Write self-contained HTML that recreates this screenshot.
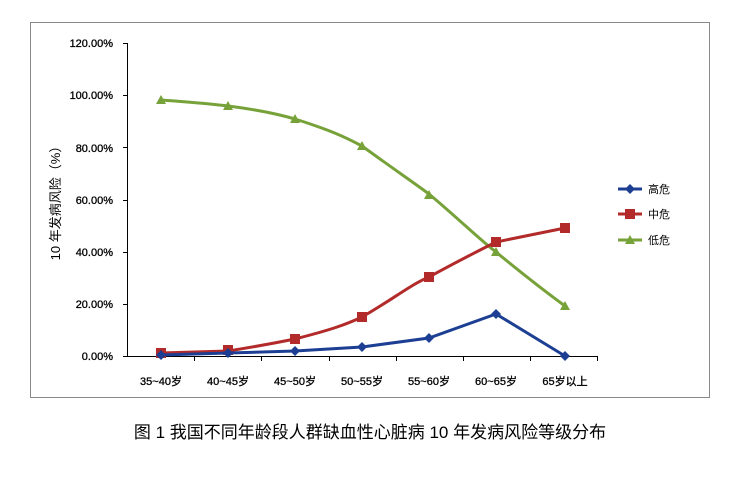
<!DOCTYPE html>
<html><head><meta charset="utf-8"><style>
body{margin:0;background:#fff;width:732px;height:482px;overflow:hidden}
text{font-family:"Liberation Sans","Noto Sans CJK SC",sans-serif}
</style></head><body>
<svg width="732" height="482" xmlns="http://www.w3.org/2000/svg">
<rect x="30.5" y="22.5" width="679" height="375" fill="none" stroke="#888" stroke-width="1"/>
<g font-size="11" fill="#000" text-anchor="end" stroke="#000" stroke-width="0.3">
<text x="113" y="47">120.00%</text>
<text x="113" y="99">100.00%</text>
<text x="113" y="152">80.00%</text>
<text x="113" y="204">60.00%</text>
<text x="113" y="256">40.00%</text>
<text x="113" y="308">20.00%</text>
<text x="113" y="360">0.00%</text>
</g>
<g stroke="#000" stroke-width="1">
<line x1="127.5" y1="43" x2="127.5" y2="356"/>
<line x1="127" y1="356.5" x2="598" y2="356.5"/>
<line x1="123" y1="43.5" x2="127" y2="43.5"/>
<line x1="123" y1="95.5" x2="127" y2="95.5"/>
<line x1="123" y1="147.5" x2="127" y2="147.5"/>
<line x1="123" y1="200.5" x2="127" y2="200.5"/>
<line x1="123" y1="252.5" x2="127" y2="252.5"/>
<line x1="123" y1="304.5" x2="127" y2="304.5"/>
<line x1="123" y1="356.5" x2="127" y2="356.5"/>
<line x1="194.5" y1="356" x2="194.5" y2="361"/>
<line x1="261.5" y1="356" x2="261.5" y2="361"/>
<line x1="329.5" y1="356" x2="329.5" y2="361"/>
<line x1="396.5" y1="356" x2="396.5" y2="361"/>
<line x1="463.5" y1="356" x2="463.5" y2="361"/>
<line x1="530.5" y1="356" x2="530.5" y2="361"/>
<line x1="597.5" y1="356" x2="597.5" y2="361"/>
</g>
<g font-size="11" text-anchor="middle" stroke="#000" stroke-width="0.3">
<text x="161" y="385">35~40岁</text>
<text x="228" y="385">40~45岁</text>
<text x="295" y="385">45~50岁</text>
<text x="362" y="385">50~55岁</text>
<text x="429" y="385">55~60岁</text>
<text x="496" y="385">60~65岁</text>
<text x="565" y="385">65岁以上</text>
</g>
<text transform="translate(60,200) rotate(-90)" font-size="13" text-anchor="middle">10 年发病风险（%）</text>
<path d="M161,100 C200,103 250,106 295,119 C330,130 345,137 362,146 C395,170 410,180 429,194 C460,220 480,240 496,252 C530,280 550,295 565,306" fill="none" stroke="#77a23a" stroke-width="3"/>
<g fill="#77a23a">
<polygon points="161,95 156,104 166,104"/><polygon points="228,101 223,110 233,110"/>
<polygon points="295,114 290,123 300,123"/><polygon points="362,141 357,150 367,150"/>
<polygon points="429,190 424,199 434,199"/><polygon points="496,247 491,256 501,256"/>
<polygon points="565,301 560,310 570,310"/>
</g>
<path d="M161,353 L228,351 C260,346 275,343 295,339 C330,330 345,325 362,317 C395,298 410,285 429,277 C460,260 480,250 496,242 L565,228" fill="none" stroke="#b22a2a" stroke-width="3"/>
<g fill="#b22a2a">
<rect x="156" y="348" width="10" height="10"/><rect x="223" y="345" width="10" height="10"/>
<rect x="290" y="334" width="10" height="10"/><rect x="357" y="312" width="10" height="10"/>
<rect x="424" y="272" width="10" height="10"/><rect x="491" y="237" width="10" height="10"/>
<rect x="560" y="223" width="10" height="10"/>
</g>
<path d="M161,355 L228,353 L295,351 L362,347 L429,338 L496,314 L565,356" fill="none" stroke="#1c3f94" stroke-width="3"/>
<g fill="#1c3f94">
<polygon points="161,350 166,355 161,360 156,355"/><polygon points="228,348 233,353 228,358 223,353"/>
<polygon points="295,346 300,351 295,356 290,351"/><polygon points="362,342 367,347 362,352 357,347"/>
<polygon points="429,333 434,338 429,343 424,338"/><polygon points="496,309 501,314 496,319 491,314"/>
<polygon points="565,351 570,356 565,361 560,356"/>
</g>
<line x1="618" y1="189" x2="642" y2="189" stroke="#1c3f94" stroke-width="3"/>
<polygon points="630,184 635,189 630,194 625,189" fill="#1c3f94"/>
<text x="648" y="193" font-size="11">高危</text>
<line x1="618" y1="214" x2="642" y2="214" stroke="#b22a2a" stroke-width="3"/>
<rect x="625" y="209" width="10" height="10" fill="#b22a2a"/>
<text x="648" y="218" font-size="11">中危</text>
<line x1="618" y1="240" x2="642" y2="240" stroke="#77a23a" stroke-width="3"/>
<polygon points="630,235 625,244 635,244" fill="#77a23a"/>
<text x="648" y="244" font-size="11">低危</text>
<text x="370" y="438" font-size="17" text-anchor="middle">图 1 我国不同年龄段人群缺血性心脏病 10 年发病风险等级分布</text>
</svg>
</body></html>
